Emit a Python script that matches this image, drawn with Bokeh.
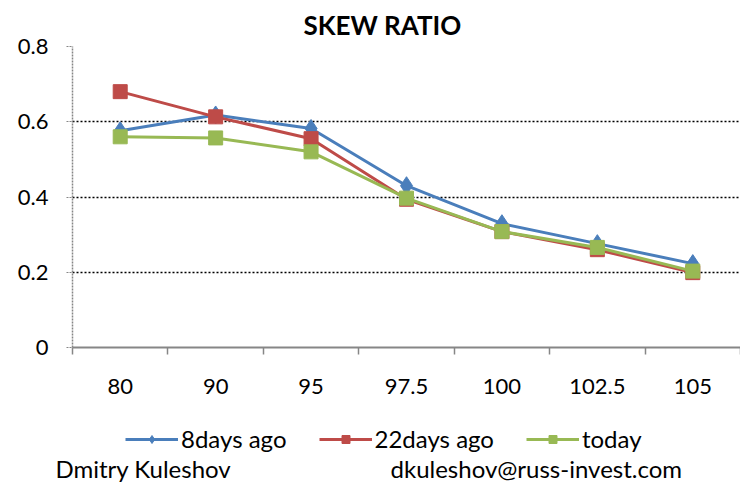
from bokeh.plotting import figure
from bokeh.layouts import column
from bokeh.models import (Range1d, LinearAxis, CategoricalAxis, FixedTicker, Label,
                          Legend, LegendItem)
from bokeh.embed import file_html
from bokeh.resources import INLINE

strikes = ["80", "90", "95", "97.5", "100", "102.5", "105"]
days8_ago = [0.576, 0.618, 0.582, 0.430, 0.329, 0.276, 0.223]
days22_ago = [0.680, 0.613, 0.555, 0.394, 0.308, 0.260, 0.199]
today = [0.560, 0.557, 0.520, 0.397, 0.308, 0.266, 0.203]
y_ticks = [0, 0.2, 0.4, 0.6, 0.8]
y_tick_labels = ["0", "0.2", "0.4", "0.6", "0.8"]
series_names = ["8days ago", "22days ago", "today"]
author = "Dmitry Kuleshov"
email = "dkuleshov@russ-invest.com"

FONT = "Lato"
FS = "22px"
FS_LEG = "24px"
BLUE = "#4a7ebb"
RED = "#be4b48"
GREEN = "#98b954"
GREY = "#868686"

# ---------------- main chart ----------------
p = figure(width=740, height=400, x_range=strikes, y_range=Range1d(0, 0.8),
           x_axis_location=None, y_axis_location="left",
           output_backend="svg", toolbar_location=None,
           min_border_left=72, min_border_right=0, min_border_top=43, min_border_bottom=53)
p.outline_line_color = None
p.frame_align = False

p.title.text = "SKEW RATIO"
p.title.align = "left"
p.title.offset = 231
p.title.standoff = 12
p.title.text_font = FONT
p.title.text_font_size = "26px"
p.title.text_font_style = "bold"
p.title.text_color = "black"

# category-boundary ticks (synthetic coordinates 0..n of the factor range)
tick_axis = LinearAxis(ticker=FixedTicker(ticks=list(range(len(strikes) + 1))),
                       major_label_text_font_size="0px", major_label_standoff=0,
                       major_tick_out=7, major_tick_in=0, minor_tick_line_color=None,
                       axis_line_color=GREY, axis_line_width=2,
                       major_tick_line_color=GREY, major_tick_line_width=1.5)
p.add_layout(tick_axis, "below")
cat_axis = CategoricalAxis(axis_line_color=None, major_tick_line_color=None,
                           major_label_standoff=18, major_label_text_font=FONT,
                           major_label_text_font_size=FS, major_label_text_color="black")
p.add_layout(cat_axis, "below")

ya = p.yaxis[0]
ya.ticker = FixedTicker(ticks=y_ticks)
ya.major_label_overrides = dict(zip(y_ticks, y_tick_labels))
ya.axis_line_color = GREY
ya.axis_line_dash = "2 1"
ya.axis_line_width = 1.5
ya.major_tick_line_color = GREY
ya.major_tick_line_dash = "2 1"
ya.major_tick_out = 6
ya.major_tick_in = 0
ya.minor_tick_line_color = None
ya.major_label_standoff = 18
ya.major_label_text_font = FONT
ya.major_label_text_font_size = FS
ya.major_label_text_color = "black"

p.xgrid.grid_line_color = None
p.ygrid.grid_line_color = "black"
p.ygrid.grid_line_dash = "2 2"
p.ygrid.grid_line_width = 1.3

p.line(strikes, days8_ago, color=BLUE, line_width=3)
p.scatter(strikes, days8_ago, marker="diamond", size=18, color=BLUE)
p.line(strikes, days22_ago, color=RED, line_width=3)
p.scatter(strikes, days22_ago, marker="square", size=14, color=RED)
p.line(strikes, today, color=GREEN, line_width=3)
p.scatter(strikes, today, marker="square", size=14, color=GREEN)

# ---------------- footer: legend + author line ----------------
f2 = figure(width=740, height=83, x_range=Range1d(0, 740), y_range=Range1d(0, 83),
            x_axis_location=None, y_axis_location=None,
            output_backend="svg", toolbar_location=None,
            min_border_left=0, min_border_right=0, min_border_top=0, min_border_bottom=0)
f2.outline_line_color = None
f2.grid.visible = False
f2.frame_align = False

NAN = float("nan")
items = []
for name, col, mk, sz in zip(series_names, [BLUE, RED, GREEN],
                             ["diamond", "square", "square"], [18, 14, 14]):
    ln = f2.line(x=[NAN], y=[NAN], color=col, line_width=3)
    sc = f2.scatter(x=[NAN], y=[NAN], marker=mk, size=sz, color=col)
    items.append(LegendItem(label=name, renderers=[ln, sc]))

legend = Legend(items=items, orientation="horizontal", location=(125, 30),
                glyph_width=53, glyph_height=20, label_standoff=3, spacing=32,
                padding=2, margin=0, border_line_color=None, background_fill_alpha=0,
                label_text_font=FONT, label_text_font_size=FS_LEG, label_text_color="black")
f2.add_layout(legend, "center")

f2.add_layout(Label(x=55, y=15, text=author, text_font=FONT, text_font_size=FS_LEG,
                    text_baseline="middle", text_color="black"))
f2.add_layout(Label(x=390, y=15, text=email, text_font=FONT, text_font_size=FS_LEG,
                    text_baseline="middle", text_color="black"))

layout = column(p, f2, spacing=0)
open("out.html", "w").write(file_html(layout, INLINE))
